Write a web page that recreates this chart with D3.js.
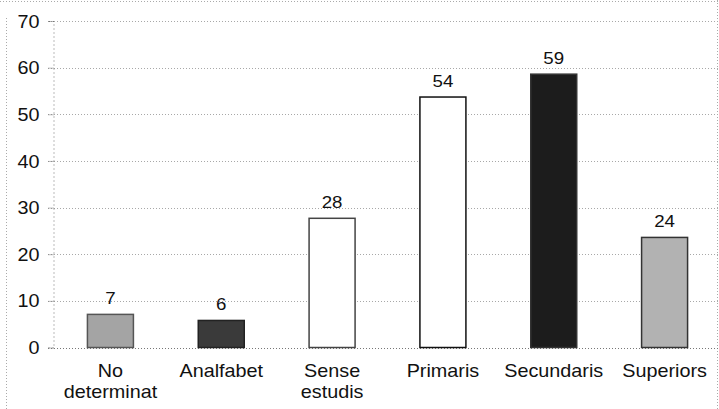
<!DOCTYPE html>
<html>
<head>
<meta charset="utf-8">
<script src="https://cdn.jsdelivr.net/npm/d3@7"></script>
<style>
  html, body { margin: 0; padding: 0; background: #fff; }
  svg { display: block; }
  text { font-family: "Liberation Sans", Arial, sans-serif; fill: #111; }
</style>
</head>
<body>
<svg id="chart" width="719" height="409"></svg>
<script>
// ---- data ----
const categories = ["No determinat", "Analfabet", "Sense estudis", "Primaris", "Secundaris", "Superiors"];
const categoryLines = [["No", "determinat"], ["Analfabet"], ["Sense", "estudis"], ["Primaris"], ["Secundaris"], ["Superiors"]];
const values = [7.1, 5.8, 27.7, 53.7, 58.6, 23.6];
const yTicks = [0, 10, 20, 30, 40, 50, 60, 70];
const barFills = ["#a4a4a4", "#3a3a3a", "#ffffff", "#ffffff", "#1c1c1c", "#b2b2b2"];
const barStrokes = ["#555", "#222", "#444", "#111", "#333", "#333"];

// ---- layout ----
const svg = d3.select("#chart");
const plotLeft = 53, plotRight = 718, plotTop = 21, plotBottom = 347.5;

const x = d3.scaleBand()
  .domain(categories)
  .range([55, 720])
  .paddingInner(0.585)
  .paddingOuter(0.2925);

const y = d3.scaleLinear().domain([0, 70]).range([plotBottom, plotTop]);

// outer frame of the scanned figure (dotted)
const frame = svg.append("g").attr("fill", "none").attr("stroke", "#aaa")
  .attr("stroke-width", 1).attr("stroke-dasharray", "1,2");
frame.append("line").attr("x1", 0).attr("x2", 719).attr("y1", 1.5).attr("y2", 1.5);
frame.append("line").attr("x1", 6.5).attr("x2", 6.5).attr("y1", 18).attr("y2", 409);
frame.append("line").attr("x1", 717.5).attr("x2", 717.5).attr("y1", 0).attr("y2", 409);

// gridlines
svg.append("g")
  .selectAll("line")
  .data(yTicks.filter(d => d > 0))
  .join("line")
  .attr("x1", 48).attr("x2", plotRight)
  .attr("y1", d => Math.round(y(d)) + 0.5)
  .attr("y2", d => Math.round(y(d)) + 0.5)
  .attr("stroke", "#a8a8a8")
  .attr("stroke-width", 1)
  .attr("stroke-dasharray", "1,2");

// y axis
const yAxis = d3.axisLeft(y).tickValues(yTicks).tickSize(5).tickPadding(9);
const yg = svg.append("g").attr("transform", `translate(${plotLeft + 0.5},0)`).call(yAxis);
yg.select(".domain").attr("stroke", "#777").attr("stroke-dasharray", "1,3");
yg.selectAll(".tick line").attr("stroke", "#777").attr("stroke-dasharray", "1,1");
yg.selectAll(".tick text")
  .attr("font-size", 18)
  .attr("fill", "#111")
  .attr("dy", "0.34em")
  .each(function() {
    const t = d3.select(this);
    const xx = +t.attr("x");
    t.attr("x", null).attr("transform", `translate(${xx},0) scale(1.1,1)`);
  });

// baseline
svg.append("line")
  .attr("x1", 48).attr("x2", plotRight)
  .attr("y1", Math.round(y(0)) + 0.5).attr("y2", Math.round(y(0)) + 0.5)
  .attr("stroke", "#777").attr("stroke-dasharray", "1,2");

// bars
svg.append("g")
  .selectAll("rect")
  .data(values)
  .join("rect")
  .attr("x", (d, i) => x(categories[i]))
  .attr("width", x.bandwidth())
  .attr("y", d => y(d))
  .attr("height", d => y(0) - y(d))
  .attr("fill", (d, i) => barFills[i])
  .attr("stroke", (d, i) => barStrokes[i])
  .attr("stroke-width", 1.5);

// value labels
svg.append("g")
  .selectAll("text")
  .data(values)
  .join("text")
  .attr("text-anchor", "middle")
  .attr("font-size", 17)
  .attr("transform", (d, i) => `translate(${x(categories[i]) + x.bandwidth() / 2},${y(d) - 10}) scale(1.1,1)`)
  .text(d => d3.format(".0f")(d));

// category labels
const xl = svg.append("g")
  .selectAll("g")
  .data(categories)
  .join("g")
  .attr("transform", (d, i) => `translate(${x(d) + x.bandwidth() / 2},0)`);
xl.each(function(d, i) {
  const g = d3.select(this);
  categoryLines[i].forEach((line, k) => {
    g.append("text")
      .attr("text-anchor", "middle")
      .attr("font-size", 18)
      .attr("transform", `translate(0,${377 + k * 21}) scale(1.1,1)`)
      .text(line);
  });
});
</script>
</body>
</html>
